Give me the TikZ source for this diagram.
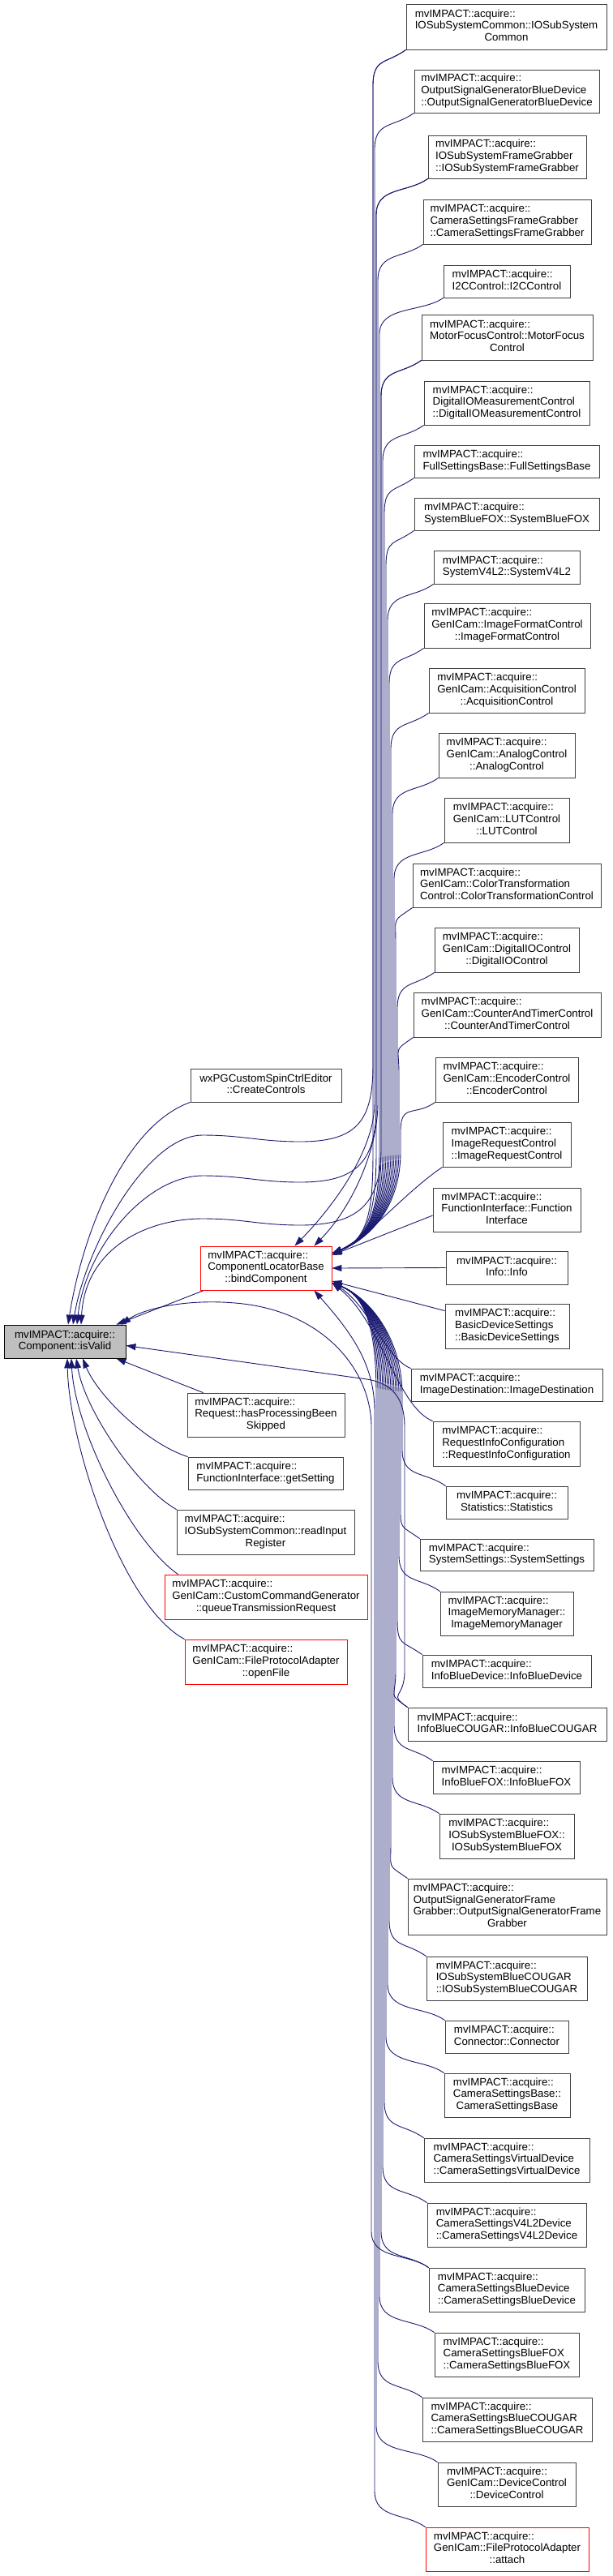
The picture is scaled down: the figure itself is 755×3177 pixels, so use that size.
\documentclass[tikz,border=0pt]{standalone}
\usepackage{fontspec}
\setmainfont{Liberation Sans}
\usetikzlibrary{arrows.meta,calc,backgrounds}
\definecolor{edgecol}{HTML}{191970}
\definecolor{boxgray}{HTML}{BFBFBF}
\definecolor{bordercol}{HTML}{404040}
\newcommand\lastln[1]{\multicolumn{1}{@{}c@{}}{#1}}
\newcommand\mva{mvIMPACT::acquire::}
\newcommand\bx[7]{\node[#6, minimum width={#4-#2}, minimum height={#5-#3}] (#1) at ({(#2+#4)/2},{(#3+#5)/2}) {\begin{tabular}{@{}l@{}}#7\end{tabular}};}
\begin{document}
\begin{tikzpicture}[x=1pt,y=-1pt,
  box/.style={draw=bordercol, line width=0.8pt, fill=white, inner sep=0pt, font=\fontsize{13.3}{14.6}\selectfont},
  redbox/.style={box, draw=red},
  graybox/.style={box, draw=black, fill=boxgray},
  edge/.style={draw=edgecol, line width=0.9pt, -{Triangle[length=12pt,width=8pt]}}]
\useasboundingbox (0,0) rectangle (755,3177);
% right column
\bx{r1}{501}{5}{748}{61}{box}{\mva\\IOSubSystemCommon::IOSubSystem\\\lastln{Common}}
\bx{r2}{511}{86}{739}{139}{box}{\mva\\OutputSignalGeneratorBlueDevice\\\lastln{::OutputSignalGeneratorBlueDevice}}
\bx{r3}{528}{167}{723}{220}{box}{\mva\\IOSubSystemFrameGrabber\\\lastln{::IOSubSystemFrameGrabber}}
\bx{r4}{522}{246}{729}{301}{box}{\mva\\CameraSettingsFrameGrabber\\\lastln{::CameraSettingsFrameGrabber}}
\bx{r5}{547}{327}{703}{367}{box}{\mva\\\lastln{I2CControl::I2CControl}}
\bx{r6}{520}{388}{731}{444}{box}{\mva\\MotorFocusControl::MotorFocus\\\lastln{Control}}
\bx{r7}{523}{470}{727}{524}{box}{\mva\\DigitalIOMeasurementControl\\\lastln{::DigitalIOMeasurementControl}}
\bx{r8}{511}{549}{739}{589}{box}{\mva\\\lastln{FullSettingsBase::FullSettingsBase}}
\bx{r9}{511}{614}{739}{654}{box}{\mva\\\lastln{SystemBlueFOX::SystemBlueFOX}}
\bx{r10}{535}{679}{715}{720}{box}{\mva\\\lastln{SystemV4L2::SystemV4L2}}
\bx{r11}{523}{744}{728}{799}{box}{\mva\\GenICam::ImageFormatControl\\\lastln{::ImageFormatControl}}
\bx{r12}{529}{824}{721}{879}{box}{\mva\\GenICam::AcquisitionControl\\\lastln{::AcquisitionControl}}
\bx{r13}{541}{904}{709}{959}{box}{\mva\\GenICam::AnalogControl\\\lastln{::AnalogControl}}
\bx{r14}{548}{984}{702}{1039}{box}{\mva\\GenICam::LUTControl\\\lastln{::LUTControl}}
\bx{r15}{509}{1065}{741}{1119}{box}{\mva\\GenICam::ColorTransformation\\\lastln{Control::ColorTransformationControl}}
\bx{r16}{536}{1144}{714}{1199}{box}{\mva\\GenICam::DigitalIOControl\\\lastln{::DigitalIOControl}}
\bx{r17}{510}{1224}{741}{1279}{box}{\mva\\GenICam::CounterAndTimerControl\\\lastln{::CounterAndTimerControl}}
\bx{r18}{537}{1304}{713}{1359}{box}{\mva\\GenICam::EncoderControl\\\lastln{::EncoderControl}}
\bx{r19}{546}{1384}{704}{1439}{box}{\mva\\ImageRequestControl\\\lastln{::ImageRequestControl}}
\bx{r20}{534}{1465}{716}{1519}{box}{\mva\\FunctionInterface::Function\\\lastln{Interface}}
\bx{r21}{550}{1543}{700}{1584}{box}{\mva\\\lastln{Info::Info}}
\bx{r22}{549}{1608}{702}{1663}{box}{\mva\\BasicDeviceSettings\\\lastln{::BasicDeviceSettings}}
\bx{r23}{507}{1688}{743}{1728}{box}{\mva\\\lastln{ImageDestination::ImageDestination}}
\bx{r24}{534}{1753}{715}{1808}{box}{\mva\\RequestInfoConfiguration\\\lastln{::RequestInfoConfiguration}}
\bx{r25}{550}{1833}{700}{1873}{box}{\mva\\\lastln{Statistics::Statistics}}
\bx{r26}{518}{1898}{732}{1937}{box}{\mva\\\lastln{SystemSettings::SystemSettings}}
\bx{r27}{543}{1963}{707}{2017}{box}{\mva\\ImageMemoryManager::\\\lastln{ImageMemoryManager}}
\bx{r28}{521}{2041}{729}{2081}{box}{\mva\\\lastln{InfoBlueDevice::InfoBlueDevice}}
\bx{r29}{503}{2106}{748}{2147}{box}{\mva\\\lastln{InfoBlueCOUGAR::InfoBlueCOUGAR}}
\bx{r30}{534}{2172}{715}{2212}{box}{\mva\\\lastln{InfoBlueFOX::InfoBlueFOX}}
\bx{r31}{542}{2237}{708}{2292}{box}{\mva\\IOSubSystemBlueFOX::\\\lastln{IOSubSystemBlueFOX}}
\bx{r32}{503}{2317}{748}{2386}{box}{\mva\\OutputSignalGeneratorFrame\\Grabber::OutputSignalGeneratorFrame\\\lastln{Grabber}}
\bx{r33}{526}{2413}{724}{2467}{box}{\mva\\IOSubSystemBlueCOUGAR\\\lastln{::IOSubSystemBlueCOUGAR}}
\bx{r34}{549}{2492}{701}{2532}{box}{\mva\\\lastln{Connector::Connector}}
\bx{r35}{548}{2557}{703}{2611}{box}{\mva\\CameraSettingsBase::\\\lastln{CameraSettingsBase}}
\bx{r36}{523}{2637}{727}{2691}{box}{\mva\\CameraSettingsVirtualDevice\\\lastln{::CameraSettingsVirtualDevice}}
\bx{r37}{527}{2717}{723}{2771}{box}{\mva\\CameraSettingsV4L2Device\\\lastln{::CameraSettingsV4L2Device}}
\bx{r38}{529}{2797}{721}{2851}{box}{\mva\\CameraSettingsBlueDevice\\\lastln{::CameraSettingsBlueDevice}}
\bx{r39}{536}{2877}{714}{2931}{box}{\mva\\CameraSettingsBlueFOX\\\lastln{::CameraSettingsBlueFOX}}
\bx{r40}{521}{2957}{730}{3011}{box}{\mva\\CameraSettingsBlueCOUGAR\\\lastln{::CameraSettingsBlueCOUGAR}}
\bx{r41}{540}{3037}{710}{3091}{box}{\mva\\GenICam::DeviceControl\\\lastln{::DeviceControl}}
\bx{r42}{525}{3117}{726}{3171}{redbox}{\mva\\GenICam::FileProtocolAdapter\\\lastln{::attach}}
% left part
\bx{iv}{5}{1634}{155}{1675}{graybox}{\mva\\\lastln{Component::isValid}}
\bx{wxpg}{235}{1318}{421}{1359}{box}{wxPGCustomSpinCtrlEditor\\\lastln{::CreateControls}}
\bx{clb}{247}{1537}{409}{1591}{redbox}{\mva\\ComponentLocatorBase\\\lastln{::bindComponent}}
\bx{hp}{231}{1718}{425}{1772}{box}{\mva\\Request::hasProcessingBeen\\\lastln{Skipped}}
\bx{gs}{232}{1797}{423}{1837}{box}{\mva\\\lastln{FunctionInterface::getSetting}}
\bx{rir}{218}{1862}{437}{1917}{box}{\mva\\IOSubSystemCommon::readInput\\\lastln{Register}}
\bx{ccg}{203}{1942}{453}{1997}{redbox}{\mva\\GenICam::CustomCommandGenerator\\\lastln{::queueTransmissionRequest}}
\bx{of}{228}{2022}{428}{2077}{redbox}{\mva\\GenICam::FileProtocolAdapter\\\lastln{::openFile}}
\begin{scope}[on background layer]
\fill[white] (0,0) rectangle (755,3177);
% upper nodes -> bindComponent (right side)
\foreach \n/\xb/\ym in {r1/460/106, r3/464/265, r5/468/412, r6/470/489, r7/472/569, r8/474/634, r9/476/699, r10/478/765, r11/480/844, r12/482/924, r13/484/1004, r14/486/1084, r15/488/1164, r16/490/1244, r17/492/1324, r18/494/1395}
  \draw[edge] (\n.south west) .. controls +(-25,18) and +(0,-35) .. (\xb,\ym) -- (\xb,1420) .. controls (\xb,1490) and (455,1528) .. ([yshift=18pt]clb.east);
% upper nodes -> bindComponent (top side)
\foreach \n/\xb/\ym/\sh/\cx in {r2/462/184/-46/409, r4/466/346/-22/433}
  \draw[edge] (\n.south west) .. controls +(-25,18) and +(0,-35) .. (\xb,\ym) -- (\xb,1360) .. controls (\xb,1420) and (\cx,1490) .. ([xshift=\sh pt]clb.north east);
\draw[edge] (r19.south west) .. controls (500,1470) and (455,1525) .. ([yshift=18pt]clb.east);
\draw[edge] ([yshift=-7pt]r20.west) -- ([yshift=16pt]clb.east);
\draw[edge] (r21.west) -- (clb.east);
\draw[edge] ([yshift=-9pt]r22.north west) -- ([yshift=-16pt]clb.east);
\draw[edge] (r23.north west) .. controls (475,1675) and (455,1610) .. ([yshift=-18pt]clb.east);
\draw[edge] (r24.north west) .. controls (490,1735) and (470,1630) .. ([yshift=-18pt]clb.east);
% lower nodes -> bindComponent
\foreach \n/\xb/\ym in {r25/496/1788, r26/494/1853, r27/492/1918, r28/490/1996, r29/488/2061, r30/486/2127, r31/484/2192, r32/482/2272, r33/480/2368, r34/478/2447, r35/476/2512, r36/474/2592, r37/472/2672, r38/470/2752, r39/468/2832, r40/466/2912, r41/464/2992}
  \draw[edge] (\n.north west) .. controls +(-25,-18) and +(0,35) .. (\xb,\ym) -- (\xb,1720) .. controls (\xb,1650) and (455,1600) .. ([yshift=-18pt]clb.east);
\draw[edge] (r42.north west) .. controls +(-25,-18) and +(0,35) .. (462,3072) -- (462,1740) .. controls (462,1680) and (430,1640) .. ([xshift=-22pt]clb.south east);
% waves from upper nodes -> isValid
\foreach \n/\xb/\ym/\yw/\sh in {r1/460/106/1403/10, r3/464/265/1453/15, r6/470/489/1506/20}
  \draw[edge] (\n.south west) .. controls +(-25,18) and +(0,-35) .. (\xb,\ym) -- (\xb,{\yw-90}) .. controls (\xb,{\yw-20}) and (440,{\yw+5}) .. (370,{\yw+5}) .. controls (320,{\yw+5}) and (300,{\yw-3}) .. (250,{\yw-3}) .. controls (180,{\yw-3}) and (105,1540) .. ([xshift=\sh pt]iv.north);
% lower nodes -> isValid
\draw[edge] (r29.north west) .. controls +(-25,-18) and +(0,35) .. (499,2061) -- (499,1760) .. controls (499,1715) and (475,1703) .. (445,1700) -- ([yshift=-5pt]iv.east);
\draw[edge] (r38.north west) .. controls +(-25,-18) and +(0,35) .. (458,2752) -- (458,1760) .. controls (458,1690) and (400,1620) .. (300,1608) .. controls (230,1600) and (175,1615) .. ([xshift=-6pt]iv.north east);
% left callers -> isValid
\draw[edge] (wxpg.south west) .. controls (150,1390) and (100,1530) .. ([xshift=4pt]iv.north);
\draw[edge] ([xshift=5pt]clb.south west) -- ([xshift=-12pt]iv.north east);
\draw[edge] ([xshift=20pt]hp.north west) -- ([xshift=-12pt]iv.south east);
\draw[edge] (gs.north west) .. controls (180,1780) and (120,1720) .. ([xshift=22pt]iv.south);
\draw[edge] (rir.north west) .. controls (170,1835) and (105,1740) .. ([xshift=14pt]iv.south);
\draw[edge] ([xshift=17pt]ccg.north west) .. controls (160,1900) and (92,1760) .. ([xshift=8pt]iv.south);
\draw[edge] (of.north west) .. controls (150,1980) and (85,1780) .. ([xshift=3pt]iv.south);
\end{scope}
\end{tikzpicture}
\end{document}
